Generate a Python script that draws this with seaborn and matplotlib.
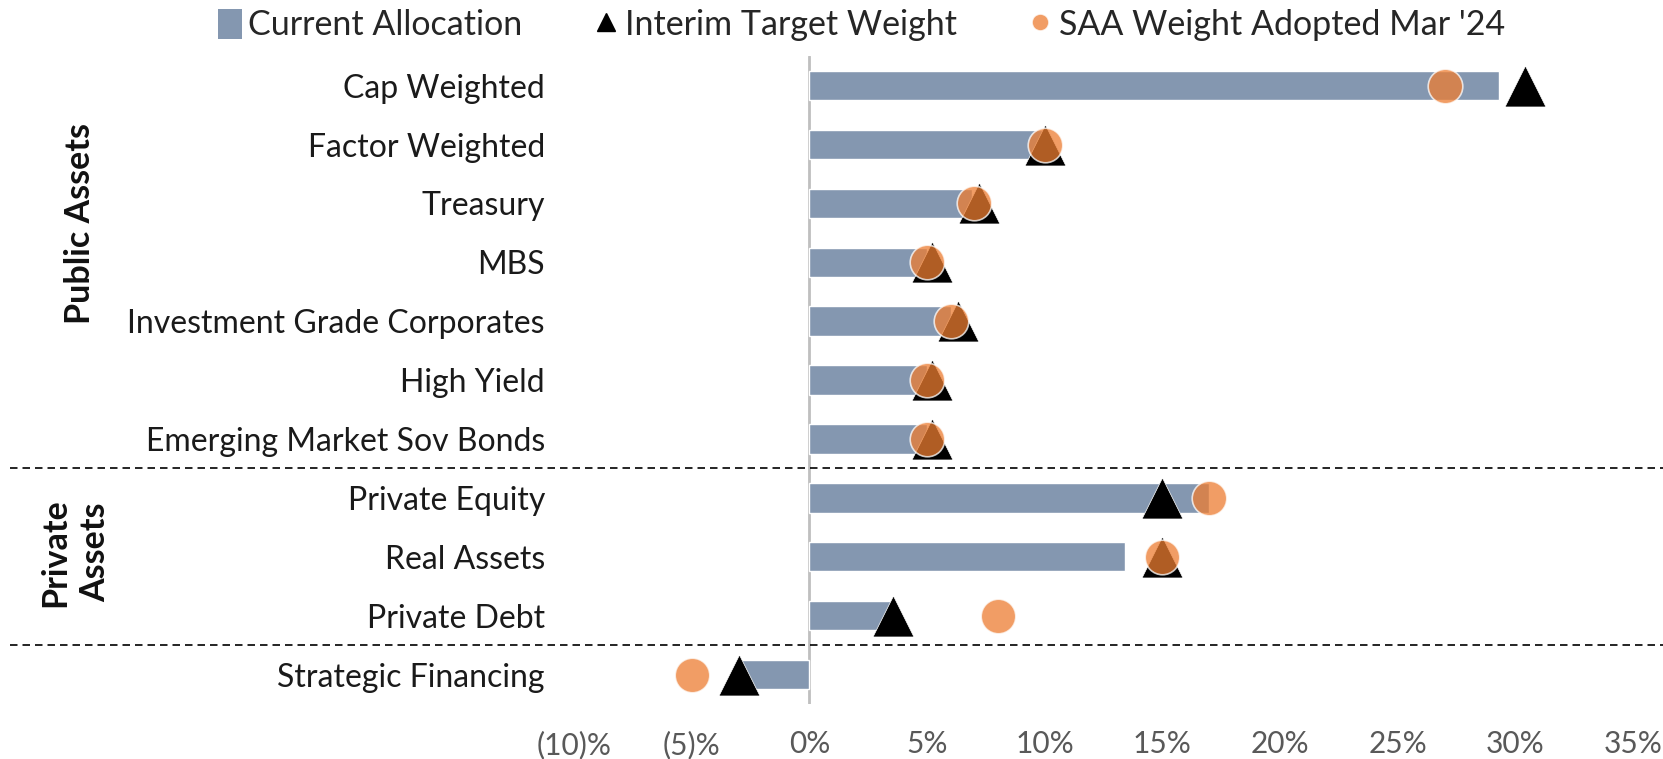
# Asset allocation vs targets - horizontal bar chart with marker overlays

import pandas as pd
import matplotlib
matplotlib.use('Agg')
import matplotlib.pyplot as plt
import matplotlib.transforms as mtransforms
from matplotlib.patches import Patch
from matplotlib.lines import Line2D
import seaborn as sns

# Data (percent of portfolio)
categories = ['Cap Weighted', 'Factor Weighted', 'Treasury', 'MBS',
              'Investment Grade Corporates', 'High Yield', 'Emerging Market Sov Bonds',
              'Private Equity', 'Real Assets', 'Private Debt', 'Strategic Financing']
current_alloc = [29.3, 10.0, 6.9, 5.0, 6.0, 5.0, 5.0, 17.0, 13.4, 3.45, -3.0]
interim_target = [30.4, 10.0, 7.2, 5.2, 6.3, 5.2, 5.2, 15.0, 15.0, 3.55, -3.0]
saa_weight = [27.0, 10.0, 7.0, 5.0, 6.0, 5.0, 5.0, 17.0, 15.0, 8.0, -5.0]

x_ticks = [-10, -5, 0, 5, 10, 15, 20, 25, 30, 35]
x_tick_labels = ['(10)%', '(5)%', '0%', '5%', '10%', '15%', '20%', '25%', '30%', '35%']

groups = ['Public Assets', 'Private\nAssets']

df = pd.DataFrame({'category': categories, 'current': current_alloc,
                   'interim': interim_target, 'saa': saa_weight})

bar_color = '#8497B0'
saa_color = '#ED7D31'

sns.set_style('white')
plt.rcParams['font.family'] = ['Lato', 'DejaVu Sans']

fig = plt.figure(figsize=(16.63, 7.59), dpi=100)
ax = fig.add_axes([0.3452, 0.0725, 0.6368, 0.8535])

sns.barplot(data=df, x='current', y='category', color=bar_color, saturation=1,
            width=0.5, orient='h', ax=ax, zorder=2)
sns.scatterplot(data=df, x='interim', y='category', marker='^', s=870, color='black',
                edgecolor='white', linewidth=0.5, ax=ax, zorder=3, legend=False)
sns.scatterplot(data=df, x='saa', y='category', marker='o', s=620, color=saa_color,
                alpha=0.75, edgecolor='white', linewidth=1.2, ax=ax, zorder=4, legend=False)

ax.axvline(0, color='#BFBFBF', lw=2, zorder=1)

ax.set_xlim(-10, 35)
ax.set_ylim(len(categories) - 0.5, -0.5)
ax.set_xticks(x_ticks)
ax.set_xticklabels(x_tick_labels)
ax.set_xlabel('')
ax.set_ylabel('')
ax.tick_params(axis='x', length=0, pad=19, labelsize=21.5, labelcolor='#595959')
ax.tick_params(axis='y', length=0, pad=21, labelsize=23, labelcolor='#1a1a1a')
for s in ax.spines.values():
    s.set_visible(False)

# dashed separators between groups, spanning the whole figure width
trans = mtransforms.blended_transform_factory(fig.transFigure, ax.transData)
for y in [6.5, 9.5]:
    ax.plot([0.006, 1.0], [y, y], transform=trans, color='black', lw=1.2,
            ls=(0, (4.5, 3)), clip_on=False, zorder=1)

# group labels
fig.text(0.048, 0.705, groups[0], rotation=90, ha='center', va='center',
         fontsize=24.5, fontweight='bold', color='#111111')
fig.text(0.045, 0.272, groups[1], rotation=90, ha='center', va='center',
         fontsize=24.5, fontweight='bold', color='#111111', multialignment='center',
         linespacing=1.3)

handles = [
    Patch(facecolor=bar_color, edgecolor='none'),
    Line2D([], [], marker='^', color='black', ls='none', markersize=13),
    Line2D([], [], marker='o', color=saa_color, alpha=0.75, ls='none', markersize=12,
           markeredgecolor='white'),
]
labels = ['Current Allocation', 'Interim Target Weight', "SAA Weight Adopted Mar '24"]
fig.legend(handles, labels, loc='upper center', bbox_to_anchor=(0.518, 1.029), ncol=3,
           frameon=False, fontsize=24.5, handlelength=0.7, handleheight=1.0,
           handletextpad=0.2, columnspacing=2.1)

fig.savefig('out.png', dpi=100)
